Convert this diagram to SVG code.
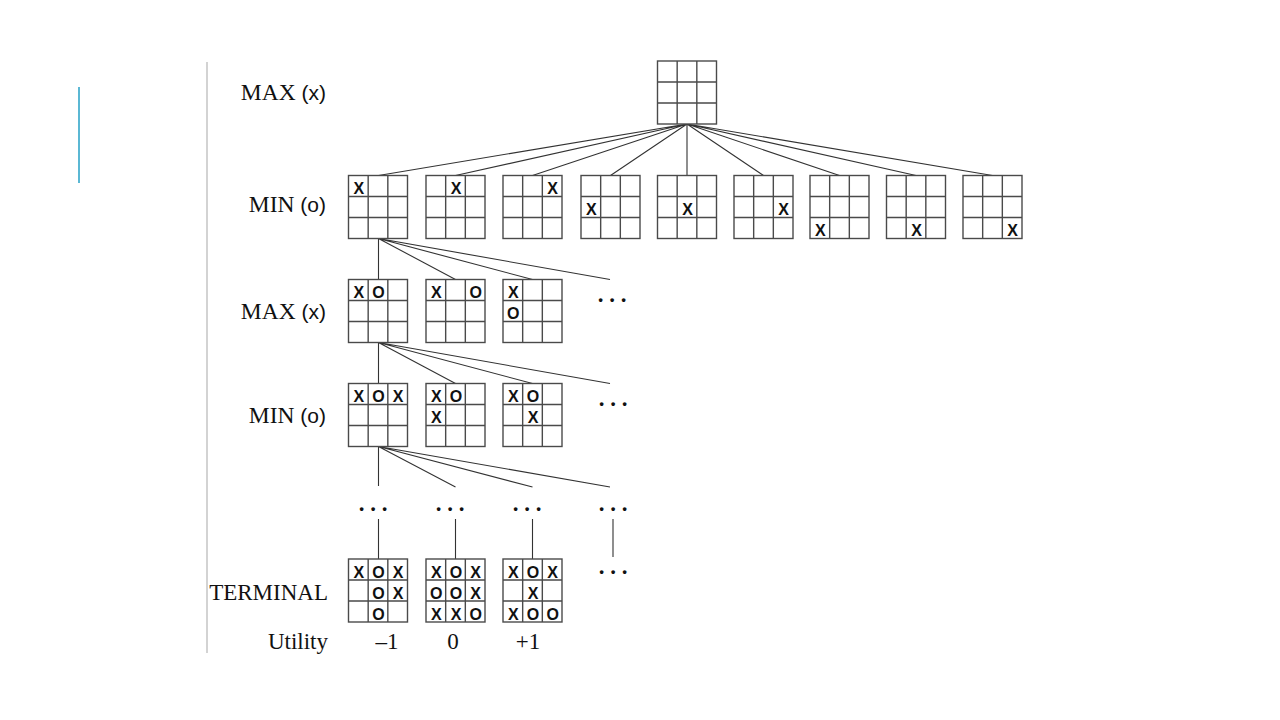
<svg xmlns="http://www.w3.org/2000/svg" xmlns:xlink="http://www.w3.org/1999/xlink" width="1280" height="720" viewBox="0 0 1280 720">
<style>
.grid{fill:#fff;stroke:#4a4a4a;stroke-width:1.4}
.edge{stroke:#333;stroke-width:1.1;fill:none}
.mark{font-family:"Liberation Sans",Arial,sans-serif;font-size:16px;font-weight:bold;fill:#111;text-anchor:middle}
.lab{font-family:"Liberation Serif","Times New Roman",serif;font-size:23.5px;fill:#111;text-anchor:end}
.lab2{font-family:"Liberation Serif","Times New Roman",serif;font-size:23px;fill:#111;text-anchor:end}
.num{font-family:"Liberation Serif","Times New Roman",serif;font-size:23px;fill:#111;text-anchor:middle}
.dots{font-family:"Liberation Serif","Times New Roman",serif;font-size:23px;font-weight:bold;fill:#111;text-anchor:middle}
.sans{font-family:"Liberation Sans",Arial,sans-serif;font-size:21px}
</style>
<defs>
<g id="board">
<rect class="grid" x="0" y="0" width="59" height="63"/>
<path class="grid" d="M19.67 0V63M39.33 0V63M0 21H59M0 42H59"/>
</g>
</defs>
<rect width="1280" height="720" fill="#fff"/>
<line x1="79" y1="87" x2="79" y2="183" stroke="#5bb8d4" stroke-width="2"/>
<line x1="207" y1="62" x2="207" y2="653" stroke="#c4c4c4" stroke-width="1.5"/>

<g id="labels">
<text class="lab" x="326" y="100">MAX <tspan class="sans">(x)</tspan></text>
<text class="lab" x="326" y="212">MIN <tspan class="sans">(o)</tspan></text>
<text class="lab" x="326" y="319">MAX <tspan class="sans">(x)</tspan></text>
<text class="lab" x="326" y="423">MIN <tspan class="sans">(o)</tspan></text>
<text class="lab2" x="328" y="600">TERMINAL</text>
<text class="lab2" x="328" y="649">Utility</text>
<text class="num" x="387" y="649">–1</text>
<text class="num" x="453" y="649">0</text>
<text class="num" x="528" y="649">+1</text>
</g>

<g id="connectors">
<path class="edge" d="M687 124L378.5 175.5M687 124L455.5 175.5M687 124L532.5 175.5M687 124L610.5 175.5M687 124L687 175.5M687 124L763.5 175.5M687 124L839.5 175.5M687 124L916 175.5M687 124L992.5 175.5"/>
<path class="edge" d="M378.5 238.5L378.5 279.5M378.5 238.5L455.5 279.5M378.5 238.5L532.5 279.5M378.5 238.5L610 279.5"/>
<path class="edge" d="M378.5 342.5L378.5 383.5M378.5 342.5L455.5 383.5M378.5 342.5L532.5 383.5M378.5 342.5L610 383.5"/>
<path class="edge" d="M378.5 446.5L378.5 486M378.5 446.5L455.5 487M378.5 446.5L532.5 487M378.5 446.5L610 487"/>
<path class="edge" d="M378.5 519V559M455.5 519V559M532.5 519V559M613 519V557"/>
</g>

<g id="dots">
<text class="dots" x="612" y="302">. . .</text>
<text class="dots" x="613" y="406">. . .</text>
<text class="dots" x="373" y="511">. . .</text>
<text class="dots" x="450" y="511">. . .</text>
<text class="dots" x="527" y="511">. . .</text>
<text class="dots" x="613" y="511">. . .</text>
<text class="dots" x="613" y="574">. . .</text>
</g>

<g id="root"><use xlink:href="#board" x="657.5" y="61"/></g>

<g id="min1-1"><use xlink:href="#board" x="348.5" y="175.5"/><text class="mark" x="358.8" y="194">X</text></g>
<g id="min1-2"><use xlink:href="#board" x="426" y="175.5"/><text class="mark" x="456" y="194">X</text></g>
<g id="min1-3"><use xlink:href="#board" x="503" y="175.5"/><text class="mark" x="552.7" y="194">X</text></g>
<g id="min1-4"><use xlink:href="#board" x="581" y="175.5"/><text class="mark" x="591.3" y="215">X</text></g>
<g id="min1-5"><use xlink:href="#board" x="657.5" y="175.5"/><text class="mark" x="687.5" y="215">X</text></g>
<g id="min1-6"><use xlink:href="#board" x="734" y="175.5"/><text class="mark" x="783.7" y="215">X</text></g>
<g id="min1-7"><use xlink:href="#board" x="810" y="175.5"/><text class="mark" x="820.3" y="236">X</text></g>
<g id="min1-8"><use xlink:href="#board" x="886.5" y="175.5"/><text class="mark" x="916.5" y="236">X</text></g>
<g id="min1-9"><use xlink:href="#board" x="963" y="175.5"/><text class="mark" x="1012.7" y="236">X</text></g>

<g id="max2-1"><use xlink:href="#board" x="348.5" y="279.5"/><text class="mark" x="358.8" y="298">X</text><text class="mark" x="378.5" y="298">O</text></g>
<g id="max2-2"><use xlink:href="#board" x="426" y="279.5"/><text class="mark" x="436.3" y="298">X</text><text class="mark" x="475.7" y="298">O</text></g>
<g id="max2-3"><use xlink:href="#board" x="503" y="279.5"/><text class="mark" x="513.3" y="298">X</text><text class="mark" x="513.3" y="319">O</text></g>

<g id="min3-1"><use xlink:href="#board" x="348.5" y="383.5"/><text class="mark" x="358.8" y="402">X</text><text class="mark" x="378.5" y="402">O</text><text class="mark" x="398.2" y="402">X</text></g>
<g id="min3-2"><use xlink:href="#board" x="426" y="383.5"/><text class="mark" x="436.3" y="402">X</text><text class="mark" x="456" y="402">O</text><text class="mark" x="436.3" y="423">X</text></g>
<g id="min3-3"><use xlink:href="#board" x="503" y="383.5"/><text class="mark" x="513.3" y="402">X</text><text class="mark" x="533" y="402">O</text><text class="mark" x="533" y="423">X</text></g>

<g id="term-1"><use xlink:href="#board" x="348.5" y="559"/>
<text class="mark" x="358.8" y="577.5">X</text><text class="mark" x="378.5" y="577.5">O</text><text class="mark" x="398.2" y="577.5">X</text>
<text class="mark" x="378.5" y="598.5">O</text><text class="mark" x="398.2" y="598.5">X</text>
<text class="mark" x="378.5" y="619.5">O</text></g>
<g id="term-2"><use xlink:href="#board" x="426" y="559"/>
<text class="mark" x="436.3" y="577.5">X</text><text class="mark" x="456" y="577.5">O</text><text class="mark" x="475.7" y="577.5">X</text>
<text class="mark" x="436.3" y="598.5">O</text><text class="mark" x="456" y="598.5">O</text><text class="mark" x="475.7" y="598.5">X</text>
<text class="mark" x="436.3" y="619.5">X</text><text class="mark" x="456" y="619.5">X</text><text class="mark" x="475.7" y="619.5">O</text></g>
<g id="term-3"><use xlink:href="#board" x="503" y="559"/>
<text class="mark" x="513.3" y="577.5">X</text><text class="mark" x="533" y="577.5">O</text><text class="mark" x="552.7" y="577.5">X</text>
<text class="mark" x="533" y="598.5">X</text>
<text class="mark" x="513.3" y="619.5">X</text><text class="mark" x="533" y="619.5">O</text><text class="mark" x="552.7" y="619.5">O</text></g>
</svg>
